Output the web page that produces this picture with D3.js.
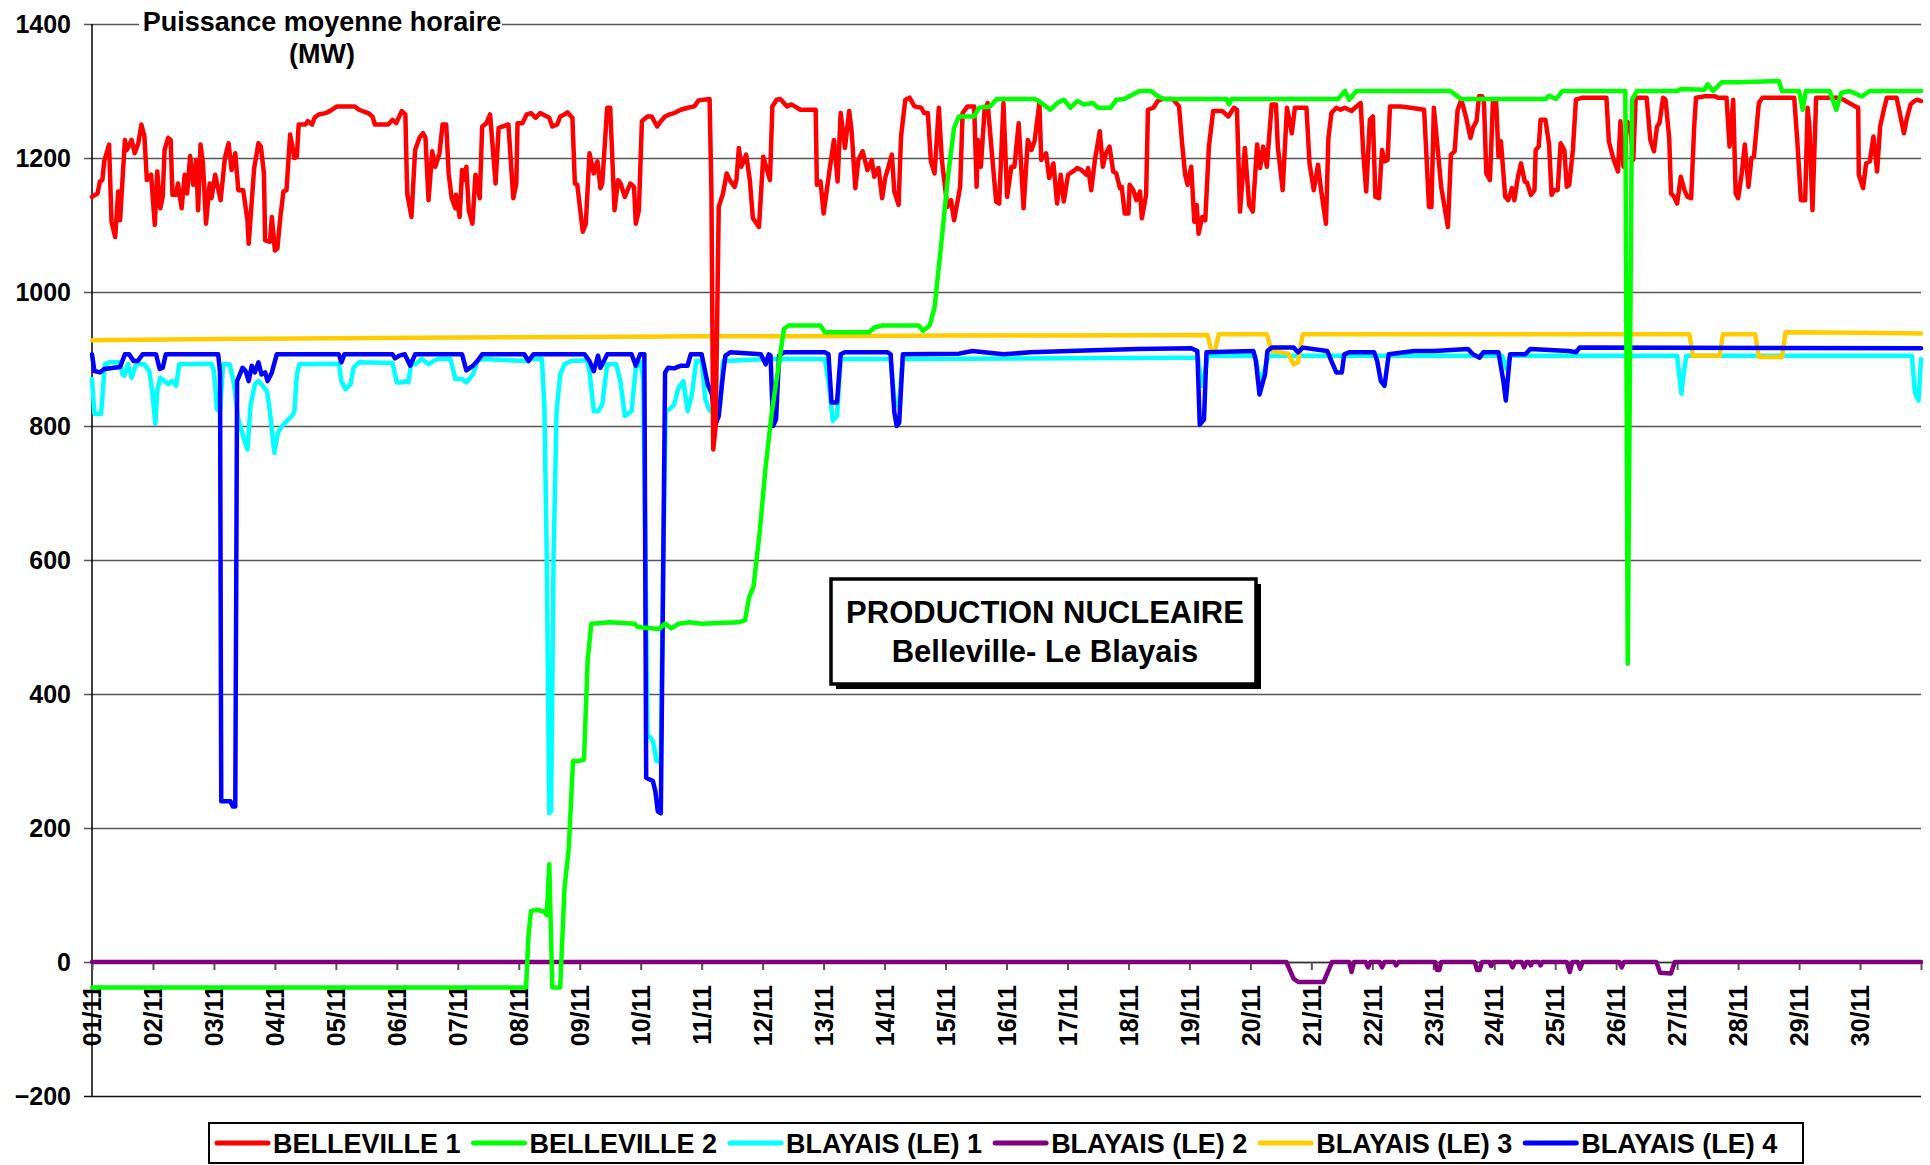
<!DOCTYPE html>
<html>
<head>
<meta charset="utf-8">
<script src="https://cdn.jsdelivr.net/npm/d3@7"></script>
<style>
    body { margin: 0; background: #fff; }
    svg { display: block; font-family: "Liberation Sans", Arial, sans-serif; font-weight: bold; }
</style>
</head>
<body>
<div id="chart"></div>
<script>
// Hourly mean power (MW), November. x = days since 01/11 00:00
const tickLabels = ["01/11", "02/11", "03/11", "04/11", "05/11", "06/11", "07/11", "08/11", "09/11", "10/11",
    "11/11", "12/11", "13/11", "14/11", "15/11", "16/11", "17/11", "18/11", "19/11", "20/11",
    "21/11", "22/11", "23/11", "24/11", "25/11", "26/11", "27/11", "28/11", "29/11", "30/11"];

const yTicks = [-200, 0, 200, 400, 600, 800, 1000, 1200, 1400];

const seriesNames = ["BELLEVILLE 1", "BELLEVILLE 2", "BLAYAIS (LE) 1", "BLAYAIS (LE) 2", "BLAYAIS (LE) 3", "BLAYAIS (LE) 4"];
const seriesColors = ["#ff0000", "#00ff00", "#00ffff", "#800080", "#ffcc00", "#0000ff"];

const belleville1 = [[0,1142],[0.09,1147],[0.13,1165],[0.17,1167],[0.2,1195],[0.28,1220],[0.32,1105],[0.38,1082],[0.43,1150],[0.46,1107],[0.54,1227],[0.57,1212],[0.65,1227],[0.7,1207],[0.76,1222],[0.81,1250],[0.86,1232],[0.9,1167],[0.97,1175],[1.03,1100],[1.07,1180],[1.12,1125],[1.16,1142],[1.19,1212],[1.25,1230],[1.29,1227],[1.32,1145],[1.38,1145],[1.41,1162],[1.47,1125],[1.52,1175],[1.56,1147],[1.61,1203],[1.66,1160],[1.71,1197],[1.74,1122],[1.78,1220],[1.82,1192],[1.87,1102],[1.93,1162],[1.96,1140],[2.02,1175],[2.11,1137],[2.18,1200],[2.24,1222],[2.29,1182],[2.35,1207],[2.4,1152],[2.48,1152],[2.55,1107],[2.57,1072],[2.66,1185],[2.73,1222],[2.77,1217],[2.82,1177],[2.84,1077],[2.92,1075],[2.95,1112],[3.0,1062],[3.04,1065],[3.09,1112],[3.14,1150],[3.19,1152],[3.25,1235],[3.32,1200],[3.36,1202],[3.39,1250],[3.5,1250],[3.54,1255],[3.61,1250],[3.65,1260],[3.72,1265],[3.83,1267],[3.9,1270],[4.02,1277],[4.31,1277],[4.38,1272],[4.53,1267],[4.6,1262],[4.64,1250],[4.86,1250],[4.93,1257],[4.99,1252],[5.08,1270],[5.14,1265],[5.17,1147],[5.24,1112],[5.3,1212],[5.37,1230],[5.43,1237],[5.47,1230],[5.52,1137],[5.58,1210],[5.63,1187],[5.7,1207],[5.75,1250],[5.81,1250],[5.85,1177],[5.9,1140],[5.96,1125],[5.97,1145],[6.03,1112],[6.07,1182],[6.1,1167],[6.14,1187],[6.18,1122],[6.24,1102],[6.29,1175],[6.36,1140],[6.4,1247],[6.47,1252],[6.53,1265],[6.62,1162],[6.67,1245],[6.83,1250],[6.91,1140],[6.96,1162],[6.98,1252],[7.06,1252],[7.13,1265],[7.2,1267],[7.28,1260],[7.35,1267],[7.5,1260],[7.55,1247],[7.63,1250],[7.68,1262],[7.75,1265],[7.8,1268],[7.88,1260],[7.92,1162],[7.96,1160],[8.05,1090],[8.1,1102],[8.16,1207],[8.23,1177],[8.29,1195],[8.34,1155],[8.37,1162],[8.45,1275],[8.5,1275],[8.57,1122],[8.63,1167],[8.67,1162],[8.74,1142],[8.83,1162],[8.89,1157],[8.92,1102],[8.97,1122],[9.02,1255],[9.11,1262],[9.18,1262],[9.27,1247],[9.33,1255],[9.4,1262],[9.47,1265],[9.55,1267],[9.66,1272],[9.77,1275],[9.88,1277],[9.95,1286],[10.13,1288],[10.16,1150],[10.19,765],[10.23,800],[10.28,1127],[10.35,1147],[10.41,1177],[10.46,1167],[10.54,1157],[10.57,1167],[10.61,1215],[10.65,1187],[10.73,1205],[10.79,1167],[10.84,1110],[10.94,1097],[11.01,1202],[11.12,1167],[11.16,1277],[11.23,1287],[11.29,1288],[11.4,1277],[11.47,1280],[11.62,1272],[11.87,1272],[11.89,1160],[11.95,1165],[12.0,1117],[12.09,1177],[12.17,1227],[12.23,1165],[12.28,1267],[12.35,1215],[12.42,1270],[12.46,1240],[12.52,1155],[12.57,1197],[12.64,1210],[12.72,1182],[12.79,1197],[12.83,1172],[12.9,1185],[12.96,1140],[13.01,1170],[13.12,1205],[13.16,1150],[13.23,1130],[13.27,1232],[13.34,1287],[13.41,1290],[13.49,1277],[13.6,1275],[13.65,1267],[13.71,1267],[13.76,1195],[13.82,1177],[13.89,1275],[13.94,1197],[14.03,1127],[14.09,1137],[14.14,1107],[14.24,1157],[14.28,1267],[14.36,1277],[14.47,1277],[14.51,1157],[14.53,1227],[14.58,1187],[14.64,1272],[14.69,1282],[14.77,1197],[14.83,1135],[14.88,1132],[14.95,1282],[15.01,1142],[15.08,1187],[15.13,1187],[15.2,1252],[15.28,1125],[15.35,1227],[15.41,1212],[15.46,1225],[15.54,1282],[15.57,1197],[15.65,1207],[15.7,1170],[15.77,1192],[15.83,1132],[15.89,1175],[15.94,1135],[16.01,1175],[16.09,1180],[16.16,1185],[16.23,1182],[16.31,1175],[16.34,1185],[16.39,1152],[16.45,1197],[16.53,1240],[16.58,1187],[16.63,1207],[16.69,1217],[16.75,1180],[16.8,1177],[16.86,1155],[16.89,1157],[16.94,1117],[17.0,1117],[17.02,1160],[17.08,1152],[17.13,1137],[17.19,1150],[17.22,1110],[17.29,1145],[17.32,1272],[17.41,1275],[17.48,1285],[17.55,1288],[17.73,1288],[17.83,1277],[17.88,1222],[17.93,1175],[17.97,1160],[18.03,1187],[18.08,1105],[18.12,1130],[18.15,1087],[18.21,1112],[18.26,1107],[18.32,1217],[18.39,1270],[18.54,1270],[18.64,1262],[18.73,1275],[18.78,1272],[18.83,1120],[18.91,1215],[18.98,1130],[19.04,1120],[19.11,1220],[19.16,1185],[19.21,1217],[19.27,1187],[19.35,1280],[19.42,1280],[19.45,1217],[19.53,1152],[19.6,1275],[19.68,1237],[19.73,1275],[19.92,1275],[19.97,1192],[20.04,1152],[20.11,1190],[20.16,1152],[20.24,1102],[20.28,1230],[20.33,1267],[20.41,1275],[20.48,1272],[20.55,1275],[20.66,1270],[20.74,1277],[20.81,1282],[20.85,1210],[20.9,1150],[20.96,1257],[21.01,1262],[21.05,1142],[21.11,1140],[21.16,1212],[21.2,1195],[21.25,1197],[21.29,1277],[21.47,1277],[21.63,1275],[21.85,1272],[21.93,1127],[21.97,1127],[22.01,1275],[22.13,1157],[22.24,1097],[22.29,1205],[22.35,1210],[22.4,1272],[22.46,1287],[22.54,1260],[22.61,1230],[22.65,1245],[22.71,1255],[22.75,1292],[22.8,1292],[22.83,1287],[22.87,1177],[22.93,1167],[22.98,1287],[23.03,1287],[23.07,1202],[23.11,1225],[23.18,1142],[23.23,1137],[23.29,1155],[23.33,1137],[23.39,1172],[23.44,1192],[23.5,1165],[23.54,1163],[23.6,1145],[23.66,1152],[23.68,1212],[23.73,1217],[23.76,1257],[23.84,1257],[23.9,1220],[23.94,1145],[23.98,1152],[24.04,1152],[24.09,1222],[24.15,1212],[24.19,1157],[24.23,1160],[24.29,1212],[24.34,1287],[24.45,1290],[24.84,1290],[24.88,1225],[24.95,1200],[25.03,1180],[25.07,1255],[25.12,1187],[25.15,1197],[25.17,1255],[25.23,1250],[25.28,1197],[25.32,1290],[25.5,1290],[25.56,1227],[25.62,1210],[25.67,1247],[25.71,1252],[25.77,1290],[25.81,1287],[25.87,1230],[25.9,1147],[25.95,1142],[26.0,1132],[26.06,1172],[26.12,1152],[26.17,1142],[26.23,1140],[26.28,1247],[26.31,1290],[26.45,1292],[26.62,1292],[26.67,1290],[26.81,1290],[26.86,1217],[26.92,1287],[26.96,1147],[27.0,1140],[27.06,1177],[27.11,1220],[27.17,1157],[27.22,1200],[27.26,1202],[27.34,1282],[27.4,1290],[27.92,1290],[27.97,1227],[28.03,1137],[28.1,1137],[28.14,1275],[28.17,1247],[28.22,1122],[28.28,1290],[28.67,1290],[28.92,1277],[28.97,1275],[28.98,1175],[29.05,1155],[29.1,1192],[29.16,1195],[29.22,1232],[29.28,1180],[29.33,1247],[29.39,1272],[29.44,1290],[29.6,1290],[29.72,1237],[29.77,1260],[29.83,1280],[29.89,1285],[29.94,1287],[30,1285]];

const belleville2 = [[0,-38],[7.12,-38],[7.16,40],[7.2,76],[7.3,78],[7.42,75],[7.46,70],[7.5,146],[7.55,-38],[7.68,-38],[7.75,110],[7.82,170],[7.89,300],[7.98,300],[8.07,302],[8.13,450],[8.19,505],[8.5,507],[8.9,505],[8.95,500],[9.3,497],[9.4,505],[9.5,498],[9.62,505],[9.8,507],[10.0,505],[10.6,507],[10.71,510],[10.78,545],[10.85,560],[10.95,640],[11.05,740],[11.15,820],[11.27,895],[11.35,945],[11.43,950],[11.95,950],[12.02,940],[12.75,940],[12.83,947],[12.97,950],[13.56,950],[13.63,942],[13.74,950],[13.82,977],[13.93,1072],[14.04,1172],[14.14,1245],[14.22,1262],[14.47,1262],[14.55,1275],[14.73,1277],[14.84,1288],[15.46,1288],[15.53,1285],[15.6,1280],[15.72,1272],[15.83,1282],[15.94,1287],[16.05,1275],[16.16,1285],[16.27,1280],[16.42,1282],[16.5,1275],[16.71,1275],[16.8,1287],[16.93,1288],[17.08,1295],[17.19,1300],[17.37,1300],[17.48,1292],[17.59,1288],[18.61,1288],[18.65,1280],[18.69,1288],[20.44,1288],[20.55,1300],[20.62,1287],[20.74,1300],[22.28,1300],[22.35,1295],[22.46,1288],[23.84,1288],[23.9,1293],[24.01,1288],[24.12,1300],[25.15,1300],[25.19,445],[25.26,1287],[25.34,1300],[26.0,1300],[26.06,1303],[26.45,1302],[26.5,1310],[26.59,1300],[26.73,1313],[27.0,1313],[27.67,1315],[27.72,1300],[28.0,1300],[28.06,1272],[28.11,1300],[28.5,1300],[28.61,1272],[28.69,1297],[28.83,1300],[29.03,1292],[29.16,1300],[30,1300]];

const blayais1 = [[0,870],[0.04,818],[0.15,818],[0.21,892],[0.29,895],[0.46,895],[0.5,877],[0.53,875],[0.59,892],[0.65,872],[0.72,892],[0.86,892],[0.94,882],[0.99,850],[1.04,803],[1.07,852],[1.12,872],[1.19,867],[1.25,862],[1.31,867],[1.38,860],[1.43,892],[1.96,893],[2.0,882],[2.05,825],[2.1,822],[2.15,892],[2.26,892],[2.32,867],[2.4,810],[2.48,785],[2.55,765],[2.6,830],[2.67,862],[2.73,867],[2.8,860],[2.87,852],[2.92,820],[2.99,760],[3.05,790],[3.12,800],[3.2,808],[3.28,815],[3.32,822],[3.36,877],[3.4,892],[4.05,893],[4.09,867],[4.16,855],[4.24,862],[4.29,887],[4.38,895],[4.93,894],[5.0,865],[5.08,865],[5.14,867],[5.19,865],[5.24,897],[5.3,892],[5.41,900],[5.52,892],[5.6,897],[5.67,900],[5.88,900],[5.96,870],[6.07,870],[6.14,865],[6.25,877],[6.32,897],[6.4,900],[7.13,897],[7.2,900],[7.38,900],[7.42,830],[7.46,600],[7.5,222],[7.53,225],[7.57,600],[7.62,822],[7.68,877],[7.75,892],[7.86,897],[8.12,898],[8.16,882],[8.23,822],[8.3,822],[8.37,832],[8.45,892],[8.6,892],[8.67,865],[8.74,815],[8.85,822],[8.92,887],[9.0,895],[9.04,870],[9.08,600],[9.11,340],[9.2,330],[9.26,300],[9.33,298],[9.37,600],[9.41,822],[9.47,825],[9.55,832],[9.62,857],[9.7,867],[9.77,822],[9.84,847],[9.91,897],[10.0,897],[10.06,840],[10.12,825],[10.22,815],[10.3,830],[10.35,897],[11.08,900],[11.29,900],[12.02,900],[12.09,860],[12.15,808],[12.22,815],[12.28,900],[13.1,900],[13.17,830],[13.24,835],[13.3,900],[17.88,902],[18.14,902],[18.2,860],[18.26,880],[18.3,905],[19.08,905],[19.15,870],[19.22,880],[19.3,905],[23.13,905],[23.2,885],[23.26,905],[26.0,905],[26.03,880],[26.07,848],[26.11,880],[26.15,905],[29.85,905],[29.9,850],[29.96,838],[30,900]];

const blayais2 = [[0,0],[19.59,0],[19.71,-25],[19.79,-30],[20.2,-30],[20.34,0],[20.62,0],[20.66,-15],[20.7,0],[20.89,0],[20.93,-8],[20.97,0],[21.12,0],[21.16,-8],[21.2,0],[21.36,0],[21.39,-5],[21.43,0],[22.03,0],[22.06,-12],[22.1,-12],[22.13,0],[22.68,0],[22.72,-12],[22.76,-12],[22.8,0],[22.92,0],[22.95,-6],[22.98,0],[23.26,0],[23.3,-8],[23.34,0],[23.45,0],[23.49,-8],[23.53,0],[23.57,0],[23.6,-5],[23.63,0],[23.73,0],[23.76,-5],[23.79,0],[24.19,0],[24.24,-15],[24.28,0],[24.37,0],[24.41,-10],[24.45,0],[25.05,0],[25.09,-8],[25.13,0],[25.66,0],[25.72,-16],[25.9,-17],[25.96,0],[30,0]];

const blayais3 = [[0,928],[2,930],[4,931],[6,932],[8,933],[10,934],[12,934],[14,935],[16,935],[18.3,936],[18.36,912],[18.42,912],[18.48,937],[19.27,937],[19.35,912],[19.62,908],[19.71,892],[19.78,895],[19.86,937],[22,937],[24,937],[26.2,937],[26.26,905],[26.7,905],[26.75,937],[27.28,937],[27.34,903],[27.72,903],[27.78,940],[29,939],[30,938]];

const blayais4 = [[0,907],[0.04,882],[0.13,880],[0.2,885],[0.46,888],[0.54,907],[0.61,907],[0.68,897],[0.75,897],[0.83,907],[1.05,907],[1.11,885],[1.16,887],[1.21,907],[2.07,907],[2.1,880],[2.12,240],[2.27,240],[2.31,232],[2.35,232],[2.38,867],[2.47,887],[2.52,882],[2.57,867],[2.62,890],[2.67,880],[2.73,895],[2.78,877],[2.84,880],[2.88,867],[2.95,880],[3.03,907],[4.05,907],[4.09,895],[4.14,907],[4.93,907],[4.97,901],[5.04,905],[5.13,907],[5.22,890],[5.3,907],[6.07,907],[6.14,883],[6.25,890],[6.32,897],[6.4,907],[7.09,907],[7.16,897],[7.24,907],[8.08,907],[8.16,897],[8.23,882],[8.3,905],[8.34,887],[8.37,892],[8.45,907],[8.85,907],[8.92,890],[8.99,907],[9.06,907],[9.09,275],[9.2,270],[9.24,255],[9.28,225],[9.33,222],[9.36,500],[9.4,880],[9.45,887],[9.55,886],[9.66,890],[9.77,890],[9.82,907],[10.0,907],[10.1,862],[10.17,847],[10.22,800],[10.28,815],[10.35,877],[10.39,905],[10.47,910],[10.97,907],[11.05,892],[11.1,907],[11.13,905],[11.17,800],[11.22,810],[11.27,905],[11.35,910],[12.02,910],[12.08,907],[12.13,835],[12.22,835],[12.28,907],[12.35,910],[13.05,910],[13.1,907],[13.16,820],[13.2,800],[13.24,805],[13.3,907],[14.22,908],[14.44,912],[14.95,907],[15.39,910],[16.42,913],[17.15,915],[18.03,916],[18.13,912],[18.17,802],[18.24,810],[18.28,910],[19.05,912],[19.09,897],[19.15,847],[19.24,877],[19.28,912],[19.35,917],[19.71,917],[19.78,910],[19.86,917],[20.26,912],[20.33,897],[20.41,880],[20.5,880],[20.54,907],[20.62,910],[21.03,910],[21.08,897],[21.14,867],[21.2,860],[21.27,907],[21.69,912],[22.01,912],[22.57,915],[22.65,907],[22.76,902],[22.82,910],[23.07,910],[23.15,867],[23.19,838],[23.26,907],[23.51,907],[23.59,915],[24.23,912],[24.34,910],[24.4,917],[30,916]];

const seriesData = [belleville1, belleville2, blayais1, blayais2, blayais3, blayais4];
// drawing order (last on top)
const drawOrder = [3, 2, 4, 5, 0, 1];

function init() {
    const width = 1930;
    const height = 1165;

    const svg = d3.select("#chart").append("svg")
        .attr("width", width)
        .attr("height", height);

    const x = d3.scaleLinear().domain([0, 30]).range([92, 1921]);
    const y = d3.scaleLinear().domain([-200, 1400]).range([1096, 24]);

    // Horizontal grid lines + y labels
    const yAxis = svg.append("g")
        .attr("transform", "translate(84,0)")
        .call(d3.axisLeft(y)
            .tickValues(yTicks)
            .tickFormat(d3.format("d"))
            .tickSize(-(1921 - 84))
            .tickSizeOuter(0)
            .tickPadding(13));
    yAxis.select(".domain").remove();
    yAxis.selectAll(".tick line")
        .attr("stroke", d => d === -200 ? "#111" : "#555")
        .attr("stroke-width", 1.5);
    yAxis.selectAll(".tick text")
        .attr("font-size", 25)
        .attr("fill", "#000");

    // Title box on the top line
    svg.append("rect")
        .attr("x", 139).attr("y", 8)
        .attr("width", 363).attr("height", 30)
        .attr("fill", "#fff");
    svg.append("text")
        .attr("x", 322).attr("y", 31)
        .attr("text-anchor", "middle")
        .attr("font-size", 27)
        .text("Puissance moyenne horaire");
    svg.append("text")
        .attr("x", 322).attr("y", 63)
        .attr("text-anchor", "middle")
        .attr("font-size", 27)
        .text("(MW)");

    // Vertical axis line
    svg.append("line")
        .attr("x1", x(0)).attr("x2", x(0))
        .attr("y1", y(1400)).attr("y2", y(-200))
        .attr("stroke", "#000")
        .attr("stroke-width", 1.5);

    // X axis at zero
    const xAxis = svg.append("g")
        .attr("transform", `translate(0,${y(0)})`)
        .call(d3.axisBottom(x)
            .tickValues(d3.range(0, 31))
            .tickSize(8)
            .tickSizeOuter(0)
            .tickFormat((d, i) => tickLabels[i] || ""));
    xAxis.select(".domain")
        .attr("stroke", "#333")
        .attr("stroke-width", 1.5);
    xAxis.selectAll(".tick line")
        .attr("stroke", "#555")
        .attr("stroke-width", 2);
    xAxis.selectAll(".tick text")
        .attr("font-size", 25)
        .attr("fill", "#000")
        .attr("text-anchor", "end")
        .attr("transform", "rotate(-90)")
        .attr("x", -23)
        .attr("y", 0)
        .attr("dy", "0.35em");

    // Series lines
    const line = d3.line()
        .x(d => x(d[0]))
        .y(d => y(d[1]));

    drawOrder.forEach(function(i) {
        svg.append("path")
            .datum(seriesData[i])
            .attr("d", line)
            .attr("fill", "none")
            .attr("stroke", seriesColors[i])
            .attr("stroke-width", 4.5)
            .attr("stroke-linejoin", "round")
            .attr("stroke-linecap", "round");
    });

    // Caption box
    const box = svg.append("g");
    box.append("rect")
        .attr("x", 836).attr("y", 584)
        .attr("width", 425).attr("height", 105)
        .attr("fill", "#000");
    box.append("rect")
        .attr("x", 831).attr("y", 579)
        .attr("width", 425).attr("height", 105)
        .attr("fill", "#fff")
        .attr("stroke", "#000")
        .attr("stroke-width", 3.5);
    box.append("text")
        .attr("x", 1045).attr("y", 623)
        .attr("text-anchor", "middle")
        .attr("font-size", 31)
        .text("PRODUCTION NUCLEAIRE");
    box.append("text")
        .attr("x", 1045).attr("y", 662)
        .attr("text-anchor", "middle")
        .attr("font-size", 31)
        .text("Belleville- Le Blayais");

    // Legend
    const legend = svg.append("g");
    legend.append("rect")
        .attr("x", 209).attr("y", 1123)
        .attr("width", 1594).attr("height", 40)
        .attr("fill", "#fff")
        .attr("stroke", "#000")
        .attr("stroke-width", 2);

    let lx = 217;
    seriesNames.forEach(function(name, i) {
        legend.append("line")
            .attr("x1", lx).attr("x2", lx + 51)
            .attr("y1", 1143).attr("y2", 1143)
            .attr("stroke", seriesColors[i])
            .attr("stroke-width", 5)
            .attr("stroke-linecap", "round");
        const t = legend.append("text")
            .attr("x", lx + 56).attr("y", 1153)
            .attr("font-size", 27)
            .text(name);
        lx = lx + 56 + t.node().getComputedTextLength() + 13;
    });
}

window.addEventListener('load', init);
</script>
</body>
</html>
